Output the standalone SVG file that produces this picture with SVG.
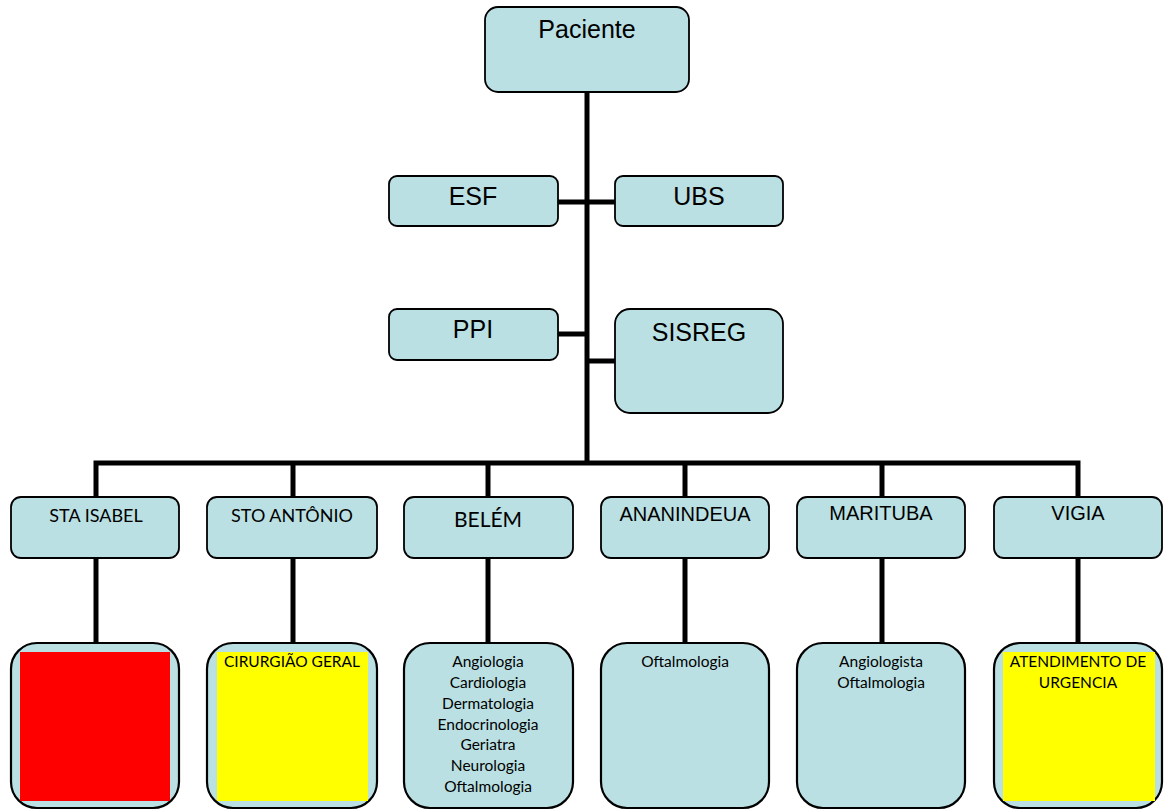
<svg xmlns="http://www.w3.org/2000/svg" width="1164" height="810" viewBox="0 0 1164 810">
  <style>
    .box { fill: #bae0e3; stroke: #000; stroke-width: 1.8; }
    .tall { stroke-width: 2.2; }
    .link { stroke: #000; stroke-width: 5; fill: none; }
    .arial { font-family: "Liberation Sans", Arial, sans-serif; fill: #000; text-anchor: middle; }
    .cal { font-family: Lato, "Open Sans", sans-serif; fill: #000; text-anchor: middle; }
    .big { font-size: 25px; }
    .mid { font-size: 20px; }
    .city { font-size: 18px; }
    .small { font-size: 15.5px; }
  </style>

  <!-- connectors -->
  <g id="connectors">
    <line class="link" x1="587" y1="92" x2="587" y2="463"/>
    <line class="link" x1="558" y1="202" x2="615" y2="202"/>
    <line class="link" x1="558" y1="334" x2="587" y2="334"/>
    <line class="link" x1="587" y1="361" x2="615" y2="361"/>
    <path class="link" d="M96,497 V463 H1078 V497" stroke-linejoin="miter"/>
    <line class="link" x1="293" y1="463" x2="293" y2="497"/>
    <line class="link" x1="488" y1="463" x2="488" y2="497"/>
    <line class="link" x1="685" y1="463" x2="685" y2="497"/>
    <line class="link" x1="882" y1="463" x2="882" y2="497"/>
    <line class="link" x1="96" y1="558" x2="96" y2="643"/>
    <line class="link" x1="293" y1="558" x2="293" y2="643"/>
    <line class="link" x1="488" y1="558" x2="488" y2="643"/>
    <line class="link" x1="685" y1="558" x2="685" y2="643"/>
    <line class="link" x1="882" y1="558" x2="882" y2="643"/>
    <line class="link" x1="1078" y1="558" x2="1078" y2="643"/>
  </g>

  <!-- top level -->
  <g id="paciente">
    <rect class="box" x="485" y="7" width="204" height="85" rx="13"/>
    <text class="arial big" x="587" y="38">Paciente</text>
  </g>

  <!-- intake -->
  <g id="esf">
    <rect class="box" x="389" y="176" width="169" height="50" rx="8"/>
    <text class="arial big" x="473" y="205">ESF</text>
  </g>
  <g id="ubs">
    <rect class="box" x="615" y="176" width="168" height="50" rx="8"/>
    <text class="arial big" x="699" y="205">UBS</text>
  </g>
  <g id="ppi">
    <rect class="box" x="389" y="309" width="169" height="51" rx="8"/>
    <text class="arial big" x="473" y="338">PPI</text>
  </g>
  <g id="sisreg">
    <rect class="box" x="615" y="309" width="168" height="104" rx="15"/>
    <text class="arial big" x="699" y="341">SISREG</text>
  </g>

  <!-- municipalities -->
  <g id="sta-isabel">
    <rect class="box" x="11" y="497" width="168" height="61" rx="10"/>
    <text class="cal city" x="96" y="522">STA ISABEL</text>
  </g>
  <g id="sto-antonio">
    <rect class="box" x="207" y="497" width="170" height="61" rx="10"/>
    <text class="cal city" x="292" y="522">STO ANTÔNIO</text>
  </g>
  <g id="belem">
    <rect class="box" x="404" y="497" width="169" height="61" rx="10"/>
    <text class="cal" font-size="21" x="488" y="527">BELÉM</text>
  </g>
  <g id="ananindeua">
    <rect class="box" x="601" y="497" width="168" height="61" rx="10"/>
    <text class="arial mid" x="685" y="521">ANANINDEUA</text>
  </g>
  <g id="marituba">
    <rect class="box" x="797" y="497" width="168" height="61" rx="10"/>
    <text class="arial mid" x="881" y="520">MARITUBA</text>
  </g>
  <g id="vigia">
    <rect class="box" x="994" y="497" width="168" height="61" rx="10"/>
    <text class="arial mid" x="1078" y="520">VIGIA</text>
  </g>

  <!-- services -->
  <g id="sta-isabel-servicos">
    <rect class="box tall" x="11" y="643" width="168" height="165" rx="26"/>
    <rect x="20" y="652" width="150" height="149" fill="#ff0000"/>
  </g>
  <g id="sto-antonio-servicos">
    <rect class="box tall" x="207" y="643" width="170" height="165" rx="26"/>
    <rect x="217" y="652" width="151" height="149" fill="#ffff00"/>
    <text class="cal small" x="292" y="667">CIRURGIÃO GERAL</text>
  </g>
  <g id="belem-servicos">
    <rect class="box tall" x="404" y="643" width="169" height="165" rx="26"/>
    <text class="cal small" x="488" y="667">Angiologia</text>
    <text class="cal small" x="488" y="688">Cardiologia</text>
    <text class="cal small" x="488" y="709">Dermatologia</text>
    <text class="cal small" x="488" y="730">Endocrinologia</text>
    <text class="cal small" x="488" y="750">Geriatra</text>
    <text class="cal small" x="488" y="771">Neurologia</text>
    <text class="cal small" x="488" y="792">Oftalmologia</text>
  </g>
  <g id="ananindeua-servicos">
    <rect class="box tall" x="601" y="643" width="168" height="165" rx="26"/>
    <text class="cal small" x="685" y="667">Oftalmologia</text>
  </g>
  <g id="marituba-servicos">
    <rect class="box tall" x="797" y="643" width="168" height="165" rx="26"/>
    <text class="cal small" x="881" y="667">Angiologista</text>
    <text class="cal small" x="881" y="688">Oftalmologia</text>
  </g>
  <g id="vigia-servicos">
    <rect class="box tall" x="994" y="643" width="168" height="165" rx="26"/>
    <rect x="1003" y="652" width="152" height="149" fill="#ffff00"/>
    <text class="cal small" x="1078" y="667">ATENDIMENTO DE</text>
    <text class="cal small" x="1078" y="688">URGENCIA</text>
  </g>
</svg>
